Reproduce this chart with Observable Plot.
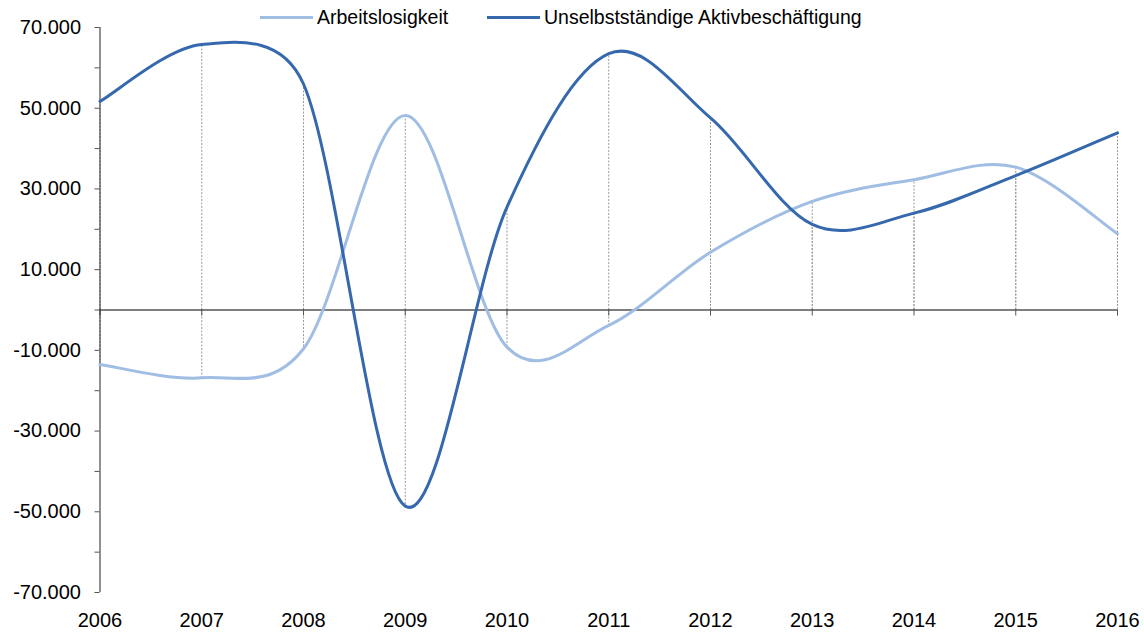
<!DOCTYPE html>
<html>
<head>
<meta charset="utf-8">
<script src="https://cdn.jsdelivr.net/npm/d3@7"></script>
<script src="https://cdn.jsdelivr.net/npm/@observablehq/plot@0.6"></script>
<style>
  html, body { margin: 0; padding: 0; background: #fff; }
  #wrap { position: relative; width: 1144px; height: 634px; font-family: "Liberation Sans", Arial, sans-serif; }
  #legend { position: absolute; top: 5px; left: 0; width: 1144px; height: 24px; font-size: 19.5px; color: #000; }
  .item { position: absolute; top: 0; display: flex; align-items: center; height: 24px; }
  .swatch { display: inline-block; width: 53px; height: 3px; margin-right: 4px; }
</style>
</head>
<body>
<div id="wrap">
  <div id="chart"></div>
  <div id="legend"></div>
</div>
<script>
const years = [2006, 2007, 2008, 2009, 2010, 2011, 2012, 2013, 2014, 2015, 2016];
const arbeitslosigkeit = [-13500, -16800, -9600, 48200, -9200, -3800, 14300, 26900, 32300, 35400, 18900];
const beschaeftigung = [51700, 65800, 56000, -48600, 25500, 63500, 47600, 21200, 24000, 33300, 43900];
const seriesNames = ["Arbeitslosigkeit", "Unselbstständige Aktivbeschäftigung"];
const seriesColors = ["#a0bde3", "#3568ad"];
const yTicks = [-70000, -60000, -50000, -40000, -30000, -20000, -10000, 0, 10000, 20000, 30000, 40000, 50000, 60000, 70000];
const yLabelTicks = [-70000, -50000, -30000, -10000, 10000, 30000, 50000, 70000];

const rows = [];
years.forEach((yr, i) => {
  rows.push({year: yr, value: arbeitslosigkeit[i], series: seriesNames[0]});
  rows.push({year: yr, value: beschaeftigung[i], series: seriesNames[1]});
});

function fmt(d) {
  if (!yLabelTicks.includes(d)) return "";
  const s = Math.abs(d).toString().replace(/\B(?=(\d{3})+(?!\d))/g, ".");
  return (d < 0 ? "-" : "") + s;
}

// Spreadsheet-style smoothed line: Catmull-Rom Bezier with control points clamped to half the segment length
function SmoothCurve(context) { this._context = context; }
SmoothCurve.prototype = {
  areaStart() { this._line = 0; },
  areaEnd() { this._line = NaN; },
  lineStart() { this._x = []; this._y = []; },
  point(x, y) { this._x.push(+x); this._y.push(+y); },
  lineEnd() {
    const X = this._x, Y = this._y, n = X.length, c = this._context;
    if (!n) return;
    c.moveTo(X[0], Y[0]);
    if (n === 2) { c.lineTo(X[1], Y[1]); return; }
    const dist = (i, j) => Math.hypot(X[j] - X[i], Y[j] - Y[i]);
    for (let i = 0; i < n - 1; i++) {
      const i0 = Math.max(0, i - 1), i1 = i, i2 = i + 1, i3 = Math.min(n - 1, i + 2);
      const d02 = dist(i0, i2), d12 = dist(i1, i2), d13 = dist(i1, i3);
      const f1 = d02 > 0 ? Math.min(1 / 6, d12 / (2 * d02)) : 0;
      const f2 = d13 > 0 ? Math.min(1 / 6, d12 / (2 * d13)) : 0;
      const c1x = X[i1] + f1 * (X[i2] - X[i0]), c1y = Y[i1] + f1 * (Y[i2] - Y[i0]);
      const c2x = X[i2] - f2 * (X[i3] - X[i1]), c2y = Y[i2] - f2 * (Y[i3] - Y[i1]);
      c.bezierCurveTo(c1x, c1y, c2x, c2y, X[i2], Y[i2]);
    }
  }
};
const smoothCurve = (context) => new SmoothCurve(context);

const chart = Plot.plot({
  width: 1144,
  height: 634,
  marginLeft: 99.5,
  marginRight: 27,
  marginTop: 27,
  marginBottom: 42,
  style: {fontFamily: "'Liberation Sans', Arial, sans-serif", background: "#fff"},
  x: {domain: [2006, 2016]},
  y: {domain: [-70000, 70000]},
  color: {domain: seriesNames, range: seriesColors},
  marks: [
    Plot.ruleX(rows, {x: "year", y1: 0, y2: "value", stroke: "#9a9a9a", strokeWidth: 1, strokeDasharray: "2,1.5"}),
    Plot.ruleY([0], {stroke: "#000", strokeWidth: 1.2}),
    Plot.ruleX(years, {x: d => d, y1: 0, y2: -1500, stroke: "#555", strokeWidth: 1}),
    Plot.ruleX([2006], {stroke: "#222", strokeWidth: 1}),
    Plot.axisY({ticks: yTicks, tickFormat: fmt, tickSize: 5, tickPadding: 14, fontSize: 20, stroke: "#555", label: null, fill: "#000"}),
    Plot.axisX({ticks: years, tickFormat: d => String(d), tickSize: 0, tickPadding: 20, fontSize: 20, label: null, anchor: "bottom", fill: "#000"}),
    Plot.line(rows, {x: "year", y: "value", stroke: "series", z: "series", strokeWidth: 3, curve: smoothCurve})
  ]
});
document.getElementById("chart").appendChild(chart);

const legend = document.getElementById("legend");
const positions = [260, 487];
seriesNames.forEach((name, i) => {
  const item = document.createElement("div");
  item.className = "item";
  item.style.left = positions[i] + "px";
  const sw = document.createElement("span");
  sw.className = "swatch";
  sw.style.background = seriesColors[i];
  const tx = document.createElement("span");
  tx.textContent = name;
  item.appendChild(sw);
  item.appendChild(tx);
  legend.appendChild(item);
});
</script>
</body>
</html>
